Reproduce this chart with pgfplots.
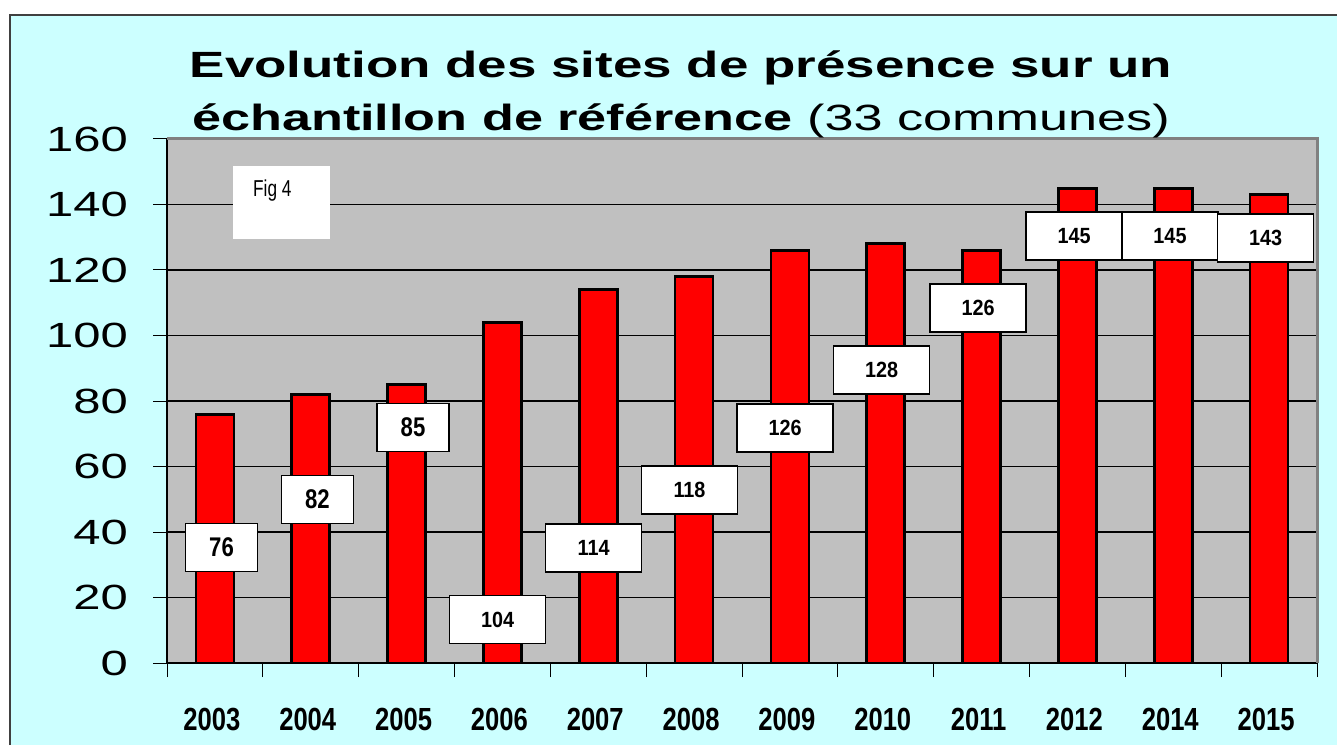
\documentclass[border=0pt]{standalone}
\usepackage{fontspec}
\setmainfont{Liberation Sans}
\newfontfamily\titlefont[FakeStretch=1.45]{Liberation Sans}
\newfontfamily\titlefontB[FakeStretch=1.43]{Liberation Sans}
\newfontfamily\ytfont[FakeStretch=1.4]{Liberation Sans}
\newfontfamily\xtfont[FakeStretch=0.8]{Liberation Sans}
\newfontfamily\lbfontA[FakeStretch=0.82]{Liberation Sans}
\newfontfamily\lbfontB[FakeStretch=0.9]{Liberation Sans}
\newfontfamily\figfont[FakeStretch=0.75]{Liberation Sans}
\usepackage{pgfplots}
\pgfplotsset{compat=1.18}
\definecolor{bgcyan}{HTML}{CCFFFF}
\definecolor{plotgray}{HTML}{C0C0C0}
\definecolor{bordergray}{HTML}{808080}

\begin{document}
\begin{tikzpicture}[x=1pt,y=1pt]
\fill[white] (0,0) rectangle (1337,745);
\fill[bgcyan] (10,0) rectangle (1337,730);
\draw[black!75, line width=1.5pt] (10,0) -- (10,730) -- (1337,730);
\begin{axis}[
  at={(167pt,82pt)}, anchor=south west,
  width=1150pt, height=524pt, scale only axis,
  xmin=0.5, xmax=12.5, ymin=0, ymax=160,
  axis background/.style={fill=plotgray},
  axis x line=bottom, axis y line=left,
  axis line style={-, black, line width=1.2pt},
  ytick={0,20,...,160},
  ymajorgrids, grid style={black, line width=1.2pt},
  xtick={0.5,1.5,...,12.5}, xticklabels={},
  extra x ticks={1,2,...,12},
  extra x tick labels={2003,2004,2005,2006,2007,2008,2009,2010,2011,2012,2014,2015},
  extra x tick style={major tick length=0pt, grid=none},
  tick align=outside, major tick length=14pt,
  tick style={black, line width=1pt},
  /pgf/number format/assume math mode=true,
  yticklabel style={font=\ytfont\fontsize{35}{36}\selectfont, anchor=east, inner sep=0pt, xshift=-25pt},
  xticklabel style={font=\xtfont\bfseries\fontsize{32}{33}\selectfont, anchor=north, inner sep=0pt, yshift=-45pt, xshift=-3pt},
  clip=false,
]
\addplot[ybar, bar width=38pt, fill=red, draw=black, line width=2.8pt] coordinates {
(1,76) (2,82) (3,85) (4,104) (5,114) (6,118) (7,126) (8,128) (9,126) (10,145) (11,145) (12,143)
};
\addplot[draw=none, nodes near coords, point meta=explicit symbolic,
  nodes near coords style={anchor=center, draw=black, line width=1.5pt, fill=white,
    minimum width=72pt, minimum height=48pt, inner sep=0pt,
    font=\lbfontA\bfseries\fontsize{27}{28}\selectfont}] table[meta=lab] {
x y lab
1.069 35.3 76
2.070 49.9 82
3.067 71.9 85
};
\addplot[draw=none, nodes near coords, point meta=explicit symbolic,
  nodes near coords style={anchor=center, draw=black, line width=1.5pt, fill=white,
    minimum width=96pt, minimum height=48pt, inner sep=0pt,
    font=\lbfontB\bfseries\fontsize{22}{23}\selectfont}] table[meta=lab] {
x y lab
3.949 13.3 104
4.951 35.1 114
5.952 52.8 118
6.949 71.8 126
7.956 89.5 128
8.963 108.4 126
9.965 130.4 145
10.966 130.4 145
11.963 129.8 143
};
\draw[bordergray, line width=3pt] (rel axis cs:0,1) -- (rel axis cs:1,1) -- (rel axis cs:1,0);
\end{axis}
\fill[white] (233,506) rectangle (330,579);
\node[anchor=base west, inner sep=0pt] at (253,548) {\figfont\fontsize{23}{24}\selectfont Fig 4};
\node[anchor=base, inner sep=0pt] at (681,667) {\titlefont\bfseries\fontsize{36.5}{37}\selectfont Evolution des sites de présence sur un};
\node[anchor=base, inner sep=0pt] at (681,614) {\titlefontB\fontsize{36.5}{37}\selectfont\textbf{échantillon de référence} (33 communes)};
\pgfresetboundingbox
\path[use as bounding box] (0,0) rectangle (1337,745);
\end{tikzpicture}
\end{document}
